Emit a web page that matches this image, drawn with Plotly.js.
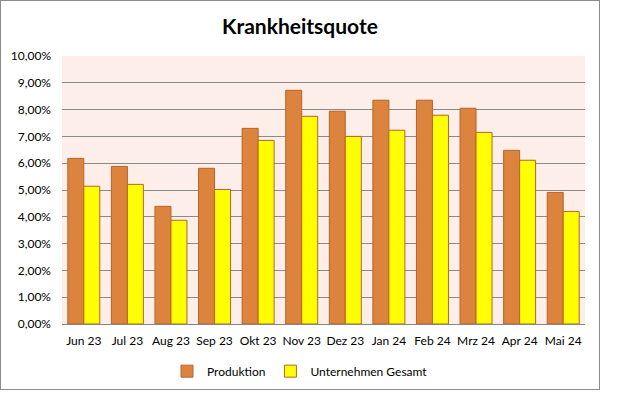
<!DOCTYPE html>
<html>
<head>
<meta charset="utf-8">
<script src="https://cdn.plot.ly/plotly-3.0.1.min.js"></script>
<style>
  html, body { margin: 0; padding: 0; background: #ffffff; }
  #frame { position: absolute; left: 0; top: 0; width: 598px; height: 388px; border: 1px solid #8c8c8c; }
  #chart { width: 598px; height: 388px; }
</style>
</head>
<body>
<div id="frame"><div id="chart"></div></div>
<script>
const months = ["Jun 23", "Jul 23", "Aug 23", "Sep 23", "Okt 23", "Nov 23", "Dez 23", "Jan 24", "Feb 24", "Mrz 24", "Apr 24", "Mai 24"];
const produktion = [6.18, 5.88, 4.39, 5.81, 7.30, 8.72, 7.94, 8.35, 8.35, 8.05, 6.48, 4.91];
const unternehmenGesamt = [5.14, 5.21, 3.87, 5.02, 6.85, 7.75, 7.00, 7.23, 7.79, 7.15, 6.11, 4.20];
const yTicks = [0, 1, 2, 3, 4, 5, 6, 7, 8, 9, 10];
const yTickLabels = ["0,00%", "1,00%", "2,00%", "3,00%", "4,00%", "5,00%", "6,00%", "7,00%", "8,00%", "9,00%", "10,00%"];

const font = "Lato, 'Open Sans', sans-serif";

const traces = [
  {
    type: "bar", name: "Produktion", x: months, y: produktion,
    marker: { color: "#DC833D", line: { color: "#B4652A", width: 1 } },
    hoverinfo: "x+y"
  },
  {
    type: "bar", name: "Unternehmen Gesamt", x: months, y: unternehmenGesamt,
    marker: { color: "#FFFF00", line: { color: "#B4652A", width: 1 } },
    hoverinfo: "x+y"
  }
];

const layout = {
  width: 598, height: 388,
  margin: { l: 61, r: 14, t: 55, b: 65 },
  paper_bgcolor: "#ffffff",
  plot_bgcolor: "#FDEEEA",
  separators: ",.",
  font: { family: font, size: 12, color: "#000000" },
  title: {
    text: "<b>Krankheitsquote</b>",
    font: { family: font, size: 21, color: "#000000" },
    x: 0.5, xref: "container", xanchor: "center",
    y: 0.935, yref: "container", yanchor: "middle"
  },
  barmode: "group",
  bargap: 0.266,
  bargroupgap: 0,
  xaxis: {
    type: "category",
    showgrid: false,
    showline: true, linecolor: "#868686", linewidth: 1,
    ticks: "", ticklabelstandoff: 6,
    tickfont: { family: font, size: 12, color: "#000000" },
    fixedrange: true
  },
  yaxis: {
    range: [0, 10],
    tickmode: "array",
    tickvals: yTicks,
    ticktext: yTickLabels,
    showgrid: true, gridcolor: "#8a8a8a", gridwidth: 1,
    zeroline: false, showline: false, ticks: "", ticklabelstandoff: 10,
    tickfont: { family: font, size: 12, color: "#000000" },
    fixedrange: true
  },
  showlegend: true,
  legend: {
    orientation: "h",
    x: 0.5, xref: "container", xanchor: "center",
    y: 0.046, yref: "container", yanchor: "middle",
    font: { family: font, size: 12, color: "#000000" },
    itemwidth: 30, traceorder: "normal"
  }
};

Plotly.newPlot("chart", traces, layout, { displayModeBar: false, staticPlot: true });
</script>
</body>
</html>
